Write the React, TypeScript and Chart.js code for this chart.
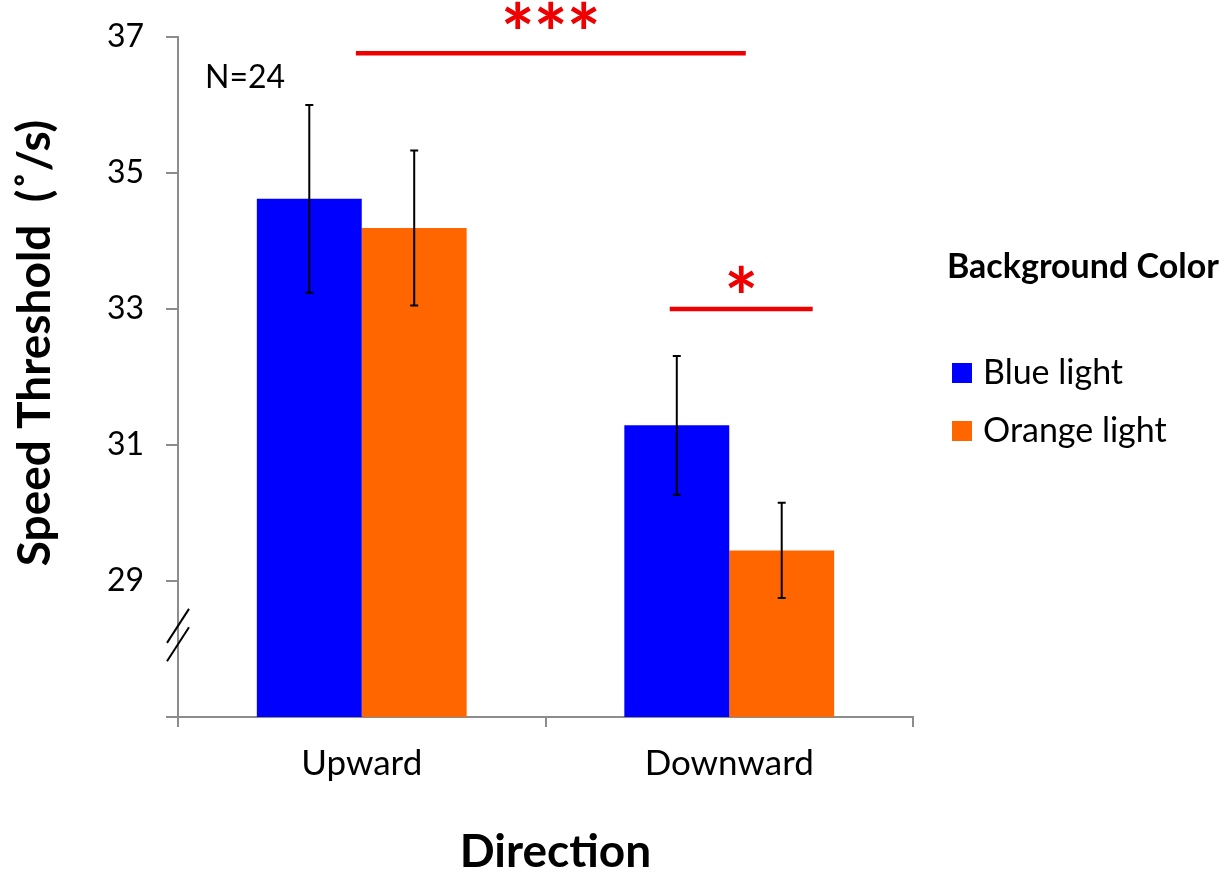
import { useEffect, useRef } from "react";
import { Chart, registerables } from "chart.js";

Chart.register(...registerables);

const categories = ["Upward", "Downward"];
const seriesNames = ["Blue light", "Orange light"];
const seriesColors = ["#0000FF", "#FF6600"];
const blueMeans = [34.62, 31.29];
const orangeMeans = [34.19, 29.45];
const blueErrors = [1.38, 1.02];
const orangeErrors = [1.14, 0.7];
const yTickValues = [27, 29, 31, 33, 35, 37];
const yTickLabels = ["", "29", "31", "33", "35", "37"];
const sigLabels = ["***", "*"];
const sigFrom = [-0.016, 0.838];
const sigTo = [1.045, 1.227];
const sigLevel = [36.76, 33.0];
const sigStarRaise = [36, 28];
const breakLevels = [28.07, 28.34];
const sampleNote = "N=24";
const yTitle = "Speed Threshold  (\u02DA/s)";
const xTitle = "Direction";
const legendTitle = "Background Color";

const FONT = "Lato, 'Open Sans', sans-serif";

const overlay = {
  id: "overlay",
  afterDatasetsDraw(chart: any) {
    const ctx = chart.ctx as CanvasRenderingContext2D;
    const xs = chart.scales.x;
    const ys = chart.scales.y;
    const area = chart.chartArea;
    const means = [blueMeans, orangeMeans];
    const errs = [blueErrors, orangeErrors];
    ctx.save();

    // error bars
    ctx.strokeStyle = "#000";
    ctx.lineWidth = 2;
    chart.data.datasets.forEach((_ds: any, di: number) => {
      const meta = chart.getDatasetMeta(di);
      meta.data.forEach((bar: any, i: number) => {
        const cx = bar.x;
        const top = ys.getPixelForValue(means[di][i] + errs[di][i]);
        const bot = ys.getPixelForValue(means[di][i] - errs[di][i]);
        ctx.beginPath();
        ctx.moveTo(cx, top);
        ctx.lineTo(cx, bot);
        ctx.moveTo(cx - 4, top);
        ctx.lineTo(cx + 4, top);
        ctx.moveTo(cx - 4, bot);
        ctx.lineTo(cx + 4, bot);
        ctx.stroke();
      });
    });

    // significance lines
    ctx.strokeStyle = "#EE0000";
    ctx.fillStyle = "#EE0000";
    ctx.lineWidth = 4.5;
    sigLabels.forEach((lab, i) => {
      const x0 = xs.getPixelForValue(sigFrom[i]);
      const x1 = xs.getPixelForValue(sigTo[i]);
      const yy = ys.getPixelForValue(sigLevel[i]);
      ctx.beginPath();
      ctx.moveTo(x0, yy);
      ctx.lineTo(x1, yy);
      ctx.stroke();
      ctx.font = `bold 80px ${FONT}`;
      ctx.textAlign = "center";
      ctx.textBaseline = "alphabetic";
      const cx = (x0 + x1) / 2;
      const n = lab.length;
      const gap = 33;
      const starCenter = yy - sigStarRaise[i];
      for (let k = 0; k < n; k++) {
        ctx.fillText("*", cx + (k - (n - 1) / 2) * gap, starCenter + 46);
      }
    });

    // N note
    ctx.fillStyle = "#000";
    ctx.font = `32px ${FONT}`;
    ctx.textAlign = "left";
    ctx.textBaseline = "middle";
    ctx.fillText(sampleNote, area.left + 27, ys.getPixelForValue(36.4));

    // axis break marks
    ctx.strokeStyle = "#000";
    ctx.lineWidth = 2;
    breakLevels.forEach((v) => {
      const yy = ys.getPixelForValue(v);
      ctx.beginPath();
      ctx.moveTo(area.left - 11, yy + 17);
      ctx.lineTo(area.left + 11, yy - 17);
      ctx.stroke();
    });

    // y title
    ctx.save();
    ctx.translate(35, 343);
    ctx.rotate(-Math.PI / 2);
    ctx.font = `bold 46px ${FONT}`;
    ctx.textAlign = "center";
    ctx.textBaseline = "middle";
    ctx.fillStyle = "#000";
    ctx.fillText(yTitle, 0, 0);
    ctx.restore();

    // x title
    ctx.font = `bold 46px ${FONT}`;
    ctx.textAlign = "center";
    ctx.textBaseline = "middle";
    ctx.fillStyle = "#000";
    ctx.fillText(xTitle, (area.left + area.right) / 2 + 10, 852);

    // legend
    ctx.textAlign = "left";
    ctx.font = `bold 34px ${FONT}`;
    ctx.fillText(legendTitle, 947, 267);
    ctx.font = `34px ${FONT}`;
    const legendY = [373, 431];
    seriesNames.forEach((nm, i) => {
      ctx.fillStyle = seriesColors[i];
      ctx.fillRect(952, legendY[i] - 10, 20, 20);
      ctx.fillStyle = "#000";
      ctx.fillText(nm, 983, legendY[i]);
    });

    ctx.restore();
  },
};

export default function App() {
  const ref = useRef<HTMLCanvasElement | null>(null);
  useEffect(() => {
    document.body.style.margin = "0";
    const canvas = ref.current!;
    const chart = new Chart(canvas, {
      type: "bar",
      data: {
        labels: categories,
        datasets: [
          {
            label: seriesNames[0],
            data: blueMeans,
            backgroundColor: seriesColors[0],
            barPercentage: 1,
            categoryPercentage: 0.571,
          },
          {
            label: seriesNames[1],
            data: orangeMeans,
            backgroundColor: seriesColors[1],
            barPercentage: 1,
            categoryPercentage: 0.571,
          },
        ],
      },
      options: {
        responsive: false,
        animation: false,
        layout: { padding: { left: 0, top: 37, right: 319, bottom: 0 } },
        plugins: {
          legend: { display: false },
          tooltip: { enabled: false },
        },
        scales: {
          x: {
            type: "category",
            grid: {
              display: true,
              drawOnChartArea: false,
              drawTicks: true,
              tickLength: 10,
              color: "#8C8C8C",
              lineWidth: 2,
              offset: true,
            },
            border: { display: true, color: "#8C8C8C", width: 2 },
            ticks: {
              color: "#000",
              font: { family: FONT, size: 35 },
              padding: 16,
            },
            afterFit: (s: any) => {
              s.height = 163;
              s.paddingLeft = 0;
              s.paddingRight = 0;
            },
          },
          y: {
            type: "linear",
            min: 27,
            max: 37,
            afterBuildTicks: (s: any) => {
              s.ticks = yTickValues.map((v) => ({ value: v }));
            },
            grid: {
              display: true,
              drawOnChartArea: false,
              drawTicks: true,
              tickLength: 12,
              color: "#8C8C8C",
              lineWidth: 2,
            },
            border: { display: true, color: "#8C8C8C", width: 2 },
            ticks: {
              color: "#000",
              font: { family: FONT, size: 32 },
              padding: 22,
              callback: (v: any) => {
                const idx = yTickValues.indexOf(Number(v));
                return idx >= 0 ? yTickLabels[idx] : "";
              },
            },
            afterFit: (s: any) => {
              s.width = 178;
              s.paddingTop = 0;
              s.paddingBottom = 0;
            },
          },
        },
      },
      plugins: [overlay],
    });
    return () => chart.destroy();
  }, []);
  return (
    <div style={{ width: 1232, height: 880, background: "#fff" }}>
      <canvas ref={ref} width={1232} height={880} />
    </div>
  );
}
